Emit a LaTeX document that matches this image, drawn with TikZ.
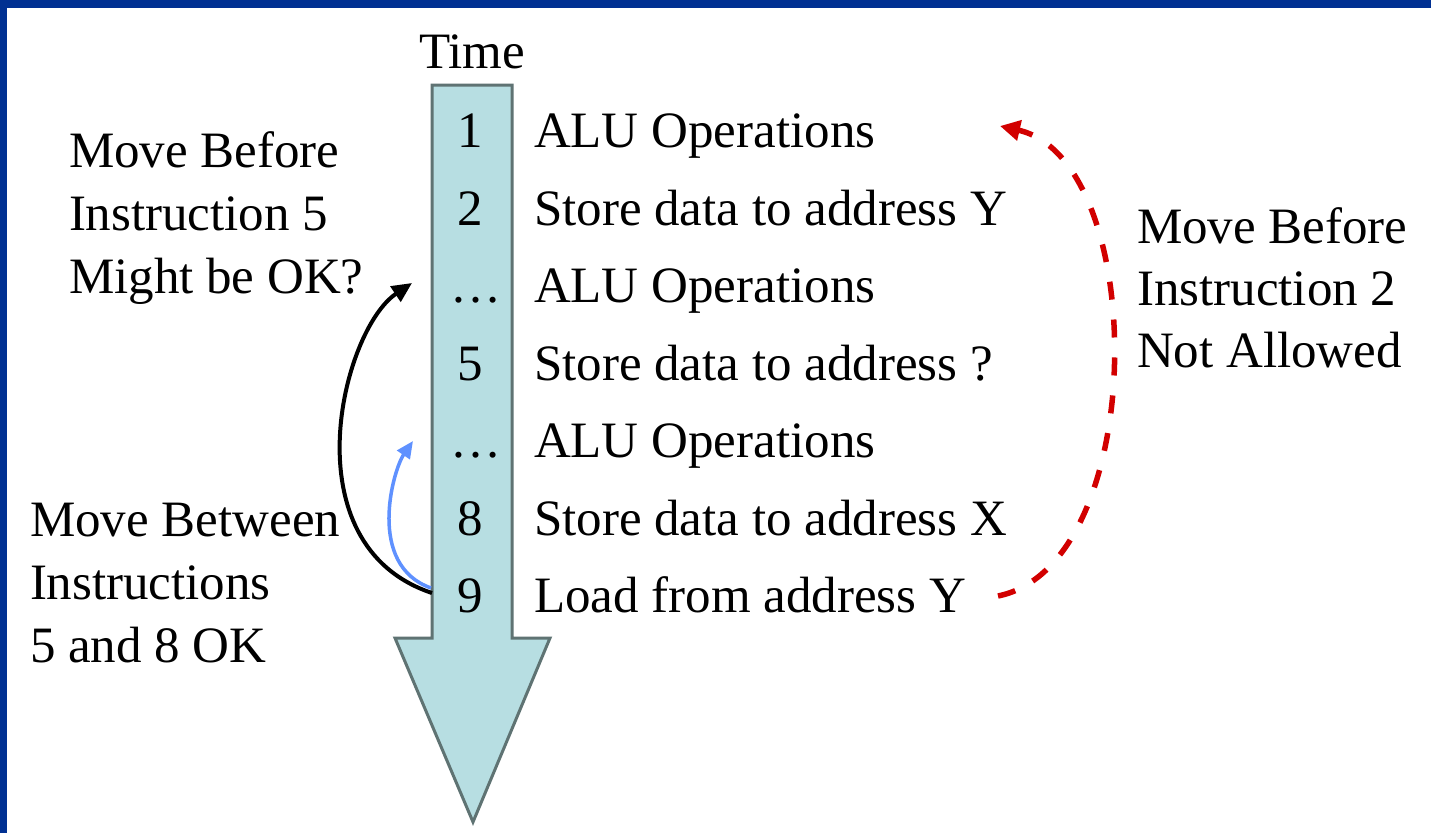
\documentclass[tikz,border=0pt]{standalone}
\usepackage{fontspec}
\setmainfont{Liberation Serif}
\usetikzlibrary{arrows.meta}
\definecolor{framecol}{RGB}{0,48,146}
\definecolor{shaftfill}{RGB}{183,222,226}
\definecolor{shaftline}{RGB}{95,115,115}
\definecolor{redarrow}{RGB}{210,0,0}
\definecolor{bluearrow}{RGB}{95,145,255}
\begin{document}
\begin{tikzpicture}[x=1pt,y=-1pt,
  txt/.style={inner sep=0pt,outer sep=0pt,font=\fontsize{51}{63}\selectfont,anchor=base west},
  num/.style={inner sep=0pt,outer sep=0pt,font=\fontsize{51}{63}\selectfont,anchor=base},
  lbl/.style={txt,align=left}]
\useasboundingbox (0,0) rectangle (1431,833);
\fill[white] (0,0) rectangle (1431,833);
\fill[framecol] (0,0) rectangle (1431,8);
\fill[framecol] (0,0) rectangle (7,833);
% time arrow
\filldraw[fill=shaftfill,draw=shaftline,line width=3pt,line join=miter]
  (432,85) -- (512,85) -- (512,638) -- (550,638) -- (473,822) -- (395,638) -- (432,638) -- cycle;
\node[num] (time) at (472,68) {Time};
% rows
\node[num] (n1) at (470,147) {1};
\node[num] (n2) at (470,225) {2};
\node[num] (n3) at (476,302) {…};
\node[num] (n5) at (470,380) {5};
\node[num] (n6) at (476,457) {…};
\node[num] (n8) at (470,535) {8};
\node[num] (n9) at (470,612) {9};
\node[txt] (r1) at (534,147) {ALU Operations};
\node[txt] (r2) at (534,225) {Store data to address Y};
\node[txt] (r3) at (534,302) {ALU Operations};
\node[txt] (r5) at (534,380) {Store data to address ?};
\node[txt] (r6) at (534,457) {ALU Operations};
\node[txt] (r8) at (534,535) {Store data to address X};
\node[txt] (r9) at (534,612) {Load from address Y};
% labels (base anchor = last line)
\node[lbl] (lt) at (69,293) {Move Before\\Instruction 5\\Might be OK?};
\node[lbl] (lb) at (30,662) {Move Between\\Instructions\\5 and 8 OK};
\node[lbl,font=\fontsize{51}{62}\selectfont] (rt) at (1137,367) {Move Before\\Instruction 2\\Not Allowed};
% connectors
\coordinate (s9) at (432,593);
\coordinate (t3) at (412,283);
\coordinate (b9) at (431,588);
\coordinate (t6) at (413,441);
\coordinate (e9) at (998,596);
\coordinate (e1) at (1000,126);
\draw[line width=4pt,-{Triangle[length=20pt,width=18pt]}]
  (s9) .. controls (288,545) and (342,330) .. (t3);
\draw[bluearrow,line width=3.5pt,-{Triangle[length=17pt,width=15pt]}]
  (b9) .. controls (366,565) and (393,470) .. (t6);
\draw[redarrow,line width=5.5pt,dash pattern=on 18pt off 20pt,-{Triangle[length=20pt,width=20pt]}]
  (e9) .. controls (1150,565) and (1150,160) .. (e1);
\end{tikzpicture}
\end{document}
